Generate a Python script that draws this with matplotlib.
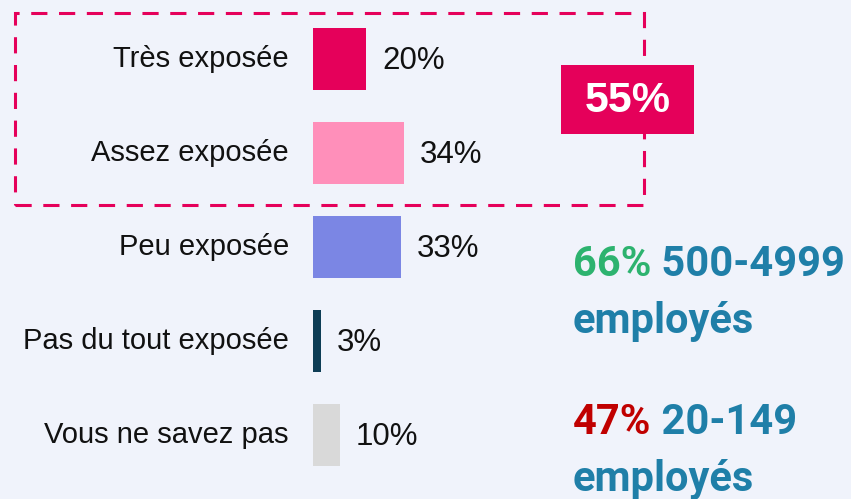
import matplotlib
matplotlib.use("Agg")
import matplotlib.pyplot as plt
from matplotlib.patches import Rectangle

categories = ["Très exposée", "Assez exposée", "Peu exposée", "Pas du tout exposée", "Vous ne savez pas"]
values = [20, 34, 33, 3, 10]
bar_colors = ["#e5005a", "#ff8fba", "#7b86e4", "#0e3d55", "#d9d9d9"]
total_label = "55%"
note1 = ("66%", " 500-4999", "employés")
note2 = ("47%", " 20-149", "employés")

BG = "#f0f3fb"
W, H = 851, 499
fig = plt.figure(figsize=(W / 100, H / 100), dpi=100, facecolor=BG)
ax = fig.add_axes([0, 0, 1, 1])
ax.set_facecolor(BG)

pxu = 2.67  # pixels per percent
x0 = 313
ax.set_xlim(-x0 / pxu, (W - x0) / pxu)
step = 94.0
yc0 = 59
ax.set_ylim((H - yc0) / step, -yc0 / step)
ax.axis("off")

ypos = list(range(len(categories)))
ax.barh(ypos, values, height=0.67, color=bar_colors)

for y, c, v in zip(ypos, categories, values):
    ax.text(-24 / pxu, y, c, ha="right", va="center", fontsize=21,
            family="Liberation Sans", color="#111111")
    ax.text(v + 16 / pxu, y + 0.025, f"{v}%", ha="left", va="center", fontsize=22.5,
            family="Liberation Sans", color="#111111")

def fx(px):
    return px / W

def fy(py):
    return 1 - py / H

# dashed box
box = Rectangle((fx(15), fy(205)), fx(644) - fx(15), fy(13) - fy(205),
                transform=fig.transFigure, fill=False, edgecolor="#e5005a",
                linewidth=2.2, linestyle=(0, (5.3, 3.8)), zorder=3)
fig.add_artist(box)

# 55% box
sbox = Rectangle((fx(561), fy(134)), fx(694) - fx(561), fy(65) - fy(134),
                 transform=fig.transFigure, facecolor="#e5005a", edgecolor="none", zorder=4)
fig.add_artist(sbox)
fig.text(fx(627.5), fy(101), total_label, ha="center", va="center", color="white",
         fontsize=31, fontweight="bold", family="Liberation Sans", zorder=5)

def note(y_base, first, first_color, rest, line2, y2):
    t1 = fig.text(fx(573), fy(y_base), first, ha="left", va="baseline", color=first_color,
                  fontsize=30, fontweight="bold", family="Roboto")
    ax.annotate(rest, xycoords=t1, xy=(1, 0), ha="left", va="bottom", color="#1f7fa8",
                fontsize=30, fontweight="bold", family="Roboto", annotation_clip=False)
    fig.text(fx(573), fy(y2), line2, ha="left", va="baseline", color="#1f7fa8",
             fontsize=30, fontweight="bold", family="Roboto")

note(276, note1[0], "#2db36f", note1[1], note1[2], 333)
note(434, note2[0], "#c00000", note2[1], note2[2], 491)

fig.savefig("out.png", dpi=100, facecolor=BG)
